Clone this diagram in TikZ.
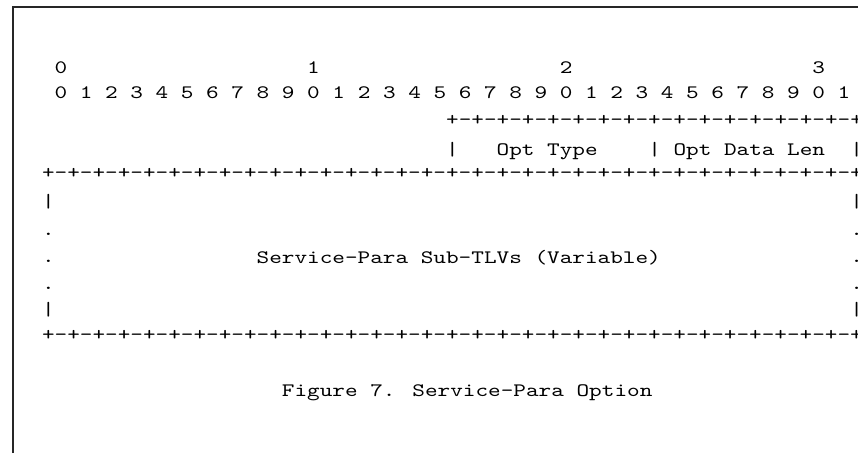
\documentclass[tikz,border=0pt]{standalone}
\usepackage{fontspec}
\newfontfamily\asciifont{lmmono10-regular.otf}[FakeStretch=1.266]
\newcommand\colx[1]{(42+12.63*(#1))}
\tikzset{
  txt/.style={font=\asciifont\fontsize{19}{19}\selectfont, inner sep=0pt, outer sep=0pt, anchor=base west, text=black},
  frameline/.style={line width=2pt, draw=black!85}
}
\begin{document}
\begin{tikzpicture}[x=1pt,y=-1pt]
\useasboundingbox (0,0) rectangle (858,453);
\clip (0,0) rectangle (858,453);
% frame
\coordinate (fbl) at (13.3,453);
\coordinate (ftl) at (13.3,6.7);
\coordinate (ftr) at (858,6.7);
\draw[frameline] (fbl) -- (ftl) -- (ftr);
% bit ruler
\foreach \d/\c in {0/1,1/21,2/41,3/61}
  \node[txt] (top\d) at ({\colx{\c}},73.3) {\d};
\foreach \i in {0,...,31}{
  \pgfmathtruncatemacro\dig{mod(\i,10)}
  \node[txt] (bit\i) at ({\colx{1+2*\i}},98) {\dig};
}
% option header
\node[txt] (rulea) at ({\colx{32}},125.3) {+-+-+-+-+-+-+-+-+-+-+-+-+-+-+-+-+};
\node[txt] (bara) at ({\colx{32}},155) {|};
\node[txt] (opttype) at ({\colx{36}},155) {Opt Type};
\node[txt] (barb) at ({\colx{48}},155) {|};
\node[txt] (optlen) at ({\colx{50}},155) {Opt Data Len};
\node[txt] (barc) at ({\colx{64}},155) {|};
% body
\node[txt] (ruleb) at ({\colx{0}},178.3) {+-+-+-+-+-+-+-+-+-+-+-+-+-+-+-+-+-+-+-+-+-+-+-+-+-+-+-+-+-+-+-+-+};
\node[txt] (lbara) at ({\colx{0}},207) {|};
\node[txt] (rbara) at ({\colx{64}},207) {|};
\foreach \k/\y in {1/235.6,2/262.6,3/289.6}{
  \node[txt] (ldot\k) at ({\colx{0}},\y) {.};
  \node[txt] (rdot\k) at ({\colx{64}},\y) {.};
}
\node[txt] (subtlv) at ({\colx{17}},263) {Service-Para Sub-TLVs (Variable)};
\node[txt] (lbarb) at ({\colx{0}},315) {|};
\node[txt] (rbarb) at ({\colx{64}},315) {|};
\node[txt] (rulec) at ({\colx{0}},340.3) {+-+-+-+-+-+-+-+-+-+-+-+-+-+-+-+-+-+-+-+-+-+-+-+-+-+-+-+-+-+-+-+-+};
% caption
\node[txt] (caption) at ({\colx{19}},396.5) {Figure 7. Service-Para Option};
\end{tikzpicture}
\end{document}
